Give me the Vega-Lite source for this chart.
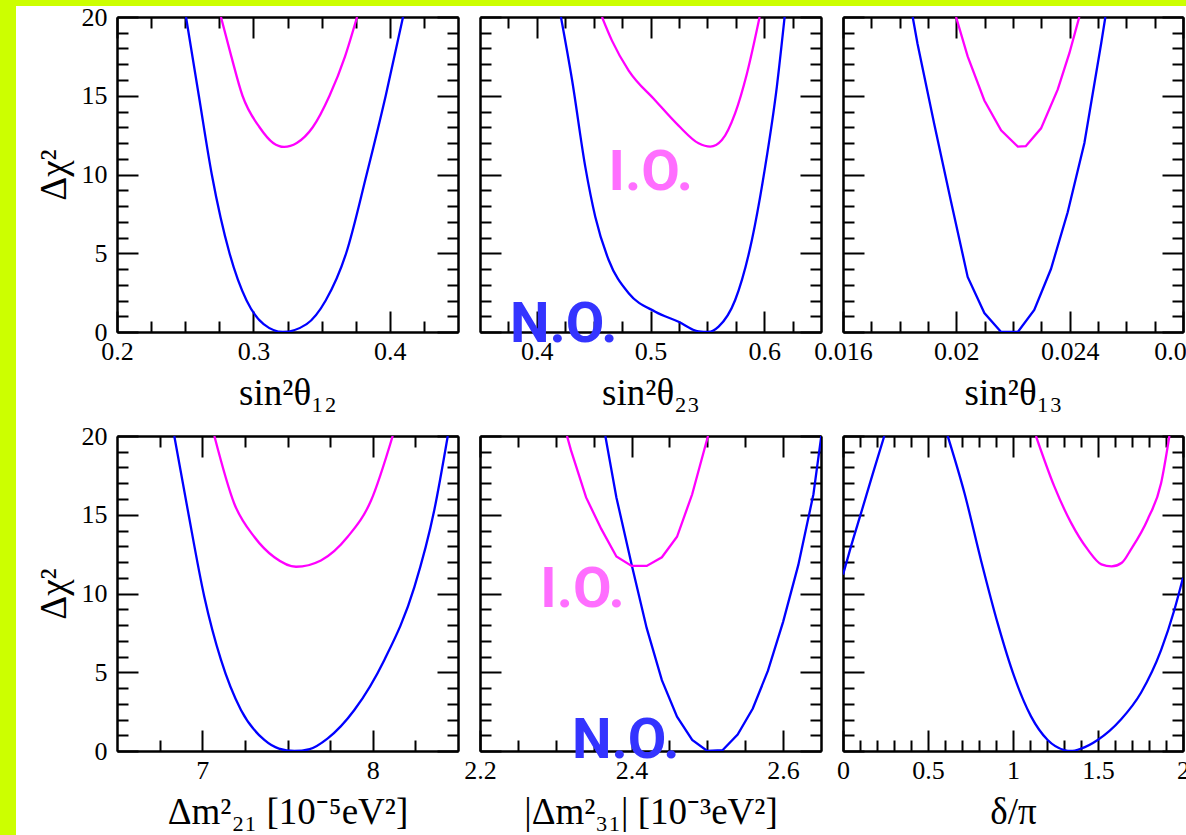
{
"$schema": "https://vega.github.io/schema/vega-lite/v6.json",
"background": "white",
"padding": 0,
"config": {
  "view": {"stroke": null},
  "axis": {"grid": false, "domainColor": "black", "domainWidth": 2, "tickColor": "black", "tickWidth": 2,
    "labelFont": "Liberation Serif", "labelFontSize": 26, "labelColor": "black", "labelPadding": 31,
    "labelFlush": false, "labelOverlap": false,
    "titleFont": "Liberation Serif", "titleFontSize": 37, "titleFontWeight": "normal", "titleColor": "black", "titlePadding": 4},
  "axisBottom": {"labelPadding": 27, "titlePadding": 11}
},
"datasets": {
  "curves": [
    {"p":1,"o":"NO","s":"a","x":0.2506,"y":20},{"p":1,"o":"NO","s":"a","x":0.2600,"y":15},{"p":1,"o":"NO","s":"a","x":0.2695,"y":10},{"p":1,"o":"NO","s":"a","x":0.2825,"y":5},{"p":1,"o":"NO","s":"a","x":0.2950,"y":2},{"p":1,"o":"NO","s":"a","x":0.3075,"y":0.5},{"p":1,"o":"NO","s":"a","x":0.3217,"y":0},{"p":1,"o":"NO","s":"a","x":0.3390,"y":0.5},{"p":1,"o":"NO","s":"a","x":0.3530,"y":2},{"p":1,"o":"NO","s":"a","x":0.3680,"y":5},{"p":1,"o":"NO","s":"a","x":0.3830,"y":10},{"p":1,"o":"NO","s":"a","x":0.3970,"y":15},{"p":1,"o":"NO","s":"a","x":0.4097,"y":20},
    {"p":1,"o":"IO","s":"a","x":0.2762,"y":20},{"p":1,"o":"IO","s":"a","x":0.2838,"y":17.5},{"p":1,"o":"IO","s":"a","x":0.2920,"y":15},{"p":1,"o":"IO","s":"a","x":0.3045,"y":13},{"p":1,"o":"IO","s":"a","x":0.3145,"y":12},{"p":1,"o":"IO","s":"a","x":0.3225,"y":11.75},{"p":1,"o":"IO","s":"a","x":0.3318,"y":12},{"p":1,"o":"IO","s":"a","x":0.3435,"y":13},{"p":1,"o":"IO","s":"a","x":0.3558,"y":15},{"p":1,"o":"IO","s":"a","x":0.3672,"y":17.5},{"p":1,"o":"IO","s":"a","x":0.3760,"y":20},
    {"p":2,"o":"NO","s":"a","x":0.4212,"y":20},{"p":2,"o":"NO","s":"a","x":0.4310,"y":16.0},{"p":2,"o":"NO","s":"a","x":0.4426,"y":10.5},{"p":2,"o":"NO","s":"a","x":0.4514,"y":7.32},{"p":2,"o":"NO","s":"a","x":0.4632,"y":4.57},{"p":2,"o":"NO","s":"a","x":0.4808,"y":2.46},{"p":2,"o":"NO","s":"a","x":0.5042,"y":1.29},{"p":2,"o":"NO","s":"a","x":0.5247,"y":0.65},{"p":2,"o":"NO","s":"a","x":0.5423,"y":0.04},{"p":2,"o":"NO","s":"a","x":0.5511,"y":0},{"p":2,"o":"NO","s":"a","x":0.5599,"y":0.34},{"p":2,"o":"NO","s":"a","x":0.5745,"y":2.03},{"p":2,"o":"NO","s":"a","x":0.5892,"y":5.84},{"p":2,"o":"NO","s":"a","x":0.6009,"y":10.5},{"p":2,"o":"NO","s":"a","x":0.6112,"y":15.6},{"p":2,"o":"NO","s":"a","x":0.6180,"y":20},
    {"p":2,"o":"IO","s":"a","x":0.4573,"y":20},{"p":2,"o":"IO","s":"a","x":0.4661,"y":18.5},{"p":2,"o":"IO","s":"a","x":0.4808,"y":16.6},{"p":2,"o":"IO","s":"a","x":0.5042,"y":14.7},{"p":2,"o":"IO","s":"a","x":0.5247,"y":13.1},{"p":2,"o":"IO","s":"a","x":0.5423,"y":11.98},{"p":2,"o":"IO","s":"a","x":0.5526,"y":11.77},{"p":2,"o":"IO","s":"a","x":0.5628,"y":12.19},{"p":2,"o":"IO","s":"a","x":0.5745,"y":13.9},{"p":2,"o":"IO","s":"a","x":0.5848,"y":16.4},{"p":2,"o":"IO","s":"a","x":0.5960,"y":20},
    {"p":3,"o":"NO","s":"a","x":0.01846,"y":20},{"p":3,"o":"NO","s":"a","x":0.01863,"y":18.3},{"p":3,"o":"NO","s":"a","x":0.01922,"y":13.2},{"p":3,"o":"NO","s":"a","x":0.01981,"y":8.3},{"p":3,"o":"NO","s":"a","x":0.02040,"y":3.5},{"p":3,"o":"NO","s":"a","x":0.02099,"y":1.2},{"p":3,"o":"NO","s":"a","x":0.02158,"y":0},{"p":3,"o":"NO","s":"a","x":0.02217,"y":0},{"p":3,"o":"NO","s":"a","x":0.02275,"y":1.4},{"p":3,"o":"NO","s":"a","x":0.02334,"y":4.0},{"p":3,"o":"NO","s":"a","x":0.02393,"y":7.6},{"p":3,"o":"NO","s":"a","x":0.02452,"y":12.0},{"p":3,"o":"NO","s":"a","x":0.02511,"y":18.3},{"p":3,"o":"NO","s":"a","x":0.02526,"y":20},
    {"p":3,"o":"IO","s":"a","x":0.01999,"y":20},{"p":3,"o":"IO","s":"a","x":0.02040,"y":17.5},{"p":3,"o":"IO","s":"a","x":0.02099,"y":14.7},{"p":3,"o":"IO","s":"a","x":0.02158,"y":12.8},{"p":3,"o":"IO","s":"a","x":0.02217,"y":11.77},{"p":3,"o":"IO","s":"a","x":0.02245,"y":11.8},{"p":3,"o":"IO","s":"a","x":0.02299,"y":12.93},{"p":3,"o":"IO","s":"a","x":0.02358,"y":15.4},{"p":3,"o":"IO","s":"a","x":0.02399,"y":17.7},{"p":3,"o":"IO","s":"a","x":0.02434,"y":20},
    {"p":4,"o":"NO","s":"a","x":6.836,"y":20},{"p":4,"o":"NO","s":"a","x":6.915,"y":15.3},{"p":4,"o":"NO","s":"a","x":7.012,"y":9.8},{"p":4,"o":"NO","s":"a","x":7.110,"y":5.78},{"p":4,"o":"NO","s":"a","x":7.227,"y":2.6},{"p":4,"o":"NO","s":"a","x":7.364,"y":0.7},{"p":4,"o":"NO","s":"a","x":7.450,"y":0.15},{"p":4,"o":"NO","s":"a","x":7.540,"y":0},{"p":4,"o":"NO","s":"a","x":7.630,"y":0.12},{"p":4,"o":"NO","s":"a","x":7.736,"y":0.8},{"p":4,"o":"NO","s":"a","x":7.892,"y":2.6},{"p":4,"o":"NO","s":"a","x":8.068,"y":5.78},{"p":4,"o":"NO","s":"a","x":8.244,"y":10.4},{"p":4,"o":"NO","s":"a","x":8.361,"y":15.3},{"p":4,"o":"NO","s":"a","x":8.440,"y":20},
    {"p":4,"o":"IO","s":"a","x":7.071,"y":20},{"p":4,"o":"IO","s":"a","x":7.188,"y":15.7},{"p":4,"o":"IO","s":"a","x":7.305,"y":13.6},{"p":4,"o":"IO","s":"a","x":7.423,"y":12.3},{"p":4,"o":"IO","s":"a","x":7.550,"y":11.7},{"p":4,"o":"IO","s":"a","x":7.696,"y":12.1},{"p":4,"o":"IO","s":"a","x":7.853,"y":13.6},{"p":4,"o":"IO","s":"a","x":7.990,"y":15.9},{"p":4,"o":"IO","s":"a","x":8.117,"y":20},
    {"p":5,"o":"NO","s":"a","x":2.3654,"y":20},{"p":5,"o":"NO","s":"a","x":2.38,"y":16.1},{"p":5,"o":"NO","s":"a","x":2.40,"y":11.85},{"p":5,"o":"NO","s":"a","x":2.42,"y":7.8},{"p":5,"o":"NO","s":"a","x":2.44,"y":4.5},{"p":5,"o":"NO","s":"a","x":2.46,"y":2.18},{"p":5,"o":"NO","s":"a","x":2.48,"y":0.7},{"p":5,"o":"NO","s":"a","x":2.50,"y":0},{"p":5,"o":"NO","s":"a","x":2.52,"y":0.05},{"p":5,"o":"NO","s":"a","x":2.54,"y":1.05},{"p":5,"o":"NO","s":"a","x":2.56,"y":2.7},{"p":5,"o":"NO","s":"a","x":2.58,"y":5.1},{"p":5,"o":"NO","s":"a","x":2.60,"y":8.2},{"p":5,"o":"NO","s":"a","x":2.62,"y":11.8},{"p":5,"o":"NO","s":"a","x":2.64,"y":16.3},{"p":5,"o":"NO","s":"a","x":2.6504,"y":20},
    {"p":5,"o":"IO","s":"a","x":2.3148,"y":20},{"p":5,"o":"IO","s":"a","x":2.32,"y":19.1},{"p":5,"o":"IO","s":"a","x":2.34,"y":16.1},{"p":5,"o":"IO","s":"a","x":2.36,"y":14.1},{"p":5,"o":"IO","s":"a","x":2.38,"y":12.35},{"p":5,"o":"IO","s":"a","x":2.40,"y":11.75},{"p":5,"o":"IO","s":"a","x":2.42,"y":11.75},{"p":5,"o":"IO","s":"a","x":2.44,"y":12.3},{"p":5,"o":"IO","s":"a","x":2.46,"y":13.6},{"p":5,"o":"IO","s":"a","x":2.48,"y":16.3},{"p":5,"o":"IO","s":"a","x":2.5009,"y":20},
    {"p":6,"o":"NO","s":"a","x":0,"y":11.2},{"p":6,"o":"NO","s":"a","x":0.05,"y":13.1},{"p":6,"o":"NO","s":"a","x":0.106,"y":15.1},{"p":6,"o":"NO","s":"a","x":0.175,"y":17.6},{"p":6,"o":"NO","s":"a","x":0.243,"y":20},
    {"p":6,"o":"NO","s":"b","x":0.616,"y":20},{"p":6,"o":"NO","s":"b","x":0.714,"y":16.4},{"p":6,"o":"NO","s":"b","x":0.812,"y":12.1},{"p":6,"o":"NO","s":"b","x":0.910,"y":8.1},{"p":6,"o":"NO","s":"b","x":1.008,"y":4.7},{"p":6,"o":"NO","s":"b","x":1.106,"y":2.2},{"p":6,"o":"NO","s":"b","x":1.204,"y":0.7},{"p":6,"o":"NO","s":"b","x":1.302,"y":0.06},{"p":6,"o":"NO","s":"b","x":1.34,"y":0},{"p":6,"o":"NO","s":"b","x":1.40,"y":0.15},{"p":6,"o":"NO","s":"b","x":1.498,"y":0.7},{"p":6,"o":"NO","s":"b","x":1.635,"y":2.0},{"p":6,"o":"NO","s":"b","x":1.753,"y":3.7},{"p":6,"o":"NO","s":"b","x":1.871,"y":6.4},{"p":6,"o":"NO","s":"b","x":1.949,"y":8.95},{"p":6,"o":"NO","s":"b","x":2.0,"y":11.0},
    {"p":6,"o":"IO","s":"a","x":1.135,"y":20},{"p":6,"o":"IO","s":"a","x":1.243,"y":16.8},{"p":6,"o":"IO","s":"a","x":1.341,"y":14.5},{"p":6,"o":"IO","s":"a","x":1.439,"y":12.8},{"p":6,"o":"IO","s":"a","x":1.52,"y":11.85},{"p":6,"o":"IO","s":"a","x":1.58,"y":11.72},{"p":6,"o":"IO","s":"a","x":1.64,"y":11.95},{"p":6,"o":"IO","s":"a","x":1.694,"y":12.8},{"p":6,"o":"IO","s":"a","x":1.792,"y":14.7},{"p":6,"o":"IO","s":"a","x":1.871,"y":17.0},{"p":6,"o":"IO","s":"a","x":1.920,"y":20}
  ],
  "labels": [
    {"p":2,"t":"I.O.","x":0.4631,"y":9.0},
    {"p":2,"t":"N.O.","x":0.3764,"y":-0.63},
    {"p":5,"t":"I.O.","x":2.2796,"y":9.16},
    {"p":5,"t":"N.O.","x":2.3214,"y":-0.46}
  ]
},
"spacing": 0,
"hconcat": [
  {"width": 16, "height": 835, "data": {"values": [{}]}, "mark": {"type": "point", "opacity": 0, "size": 0}, "view": {"fill": "#ccff00", "stroke": null}},
  {"spacing": -2, "vconcat": [
    {"width": 1170, "height": 6, "data": {"values": [{}]}, "mark": {"type": "point", "opacity": 0, "size": 0}, "view": {"fill": "#ccff00", "stroke": null}},
    {"spacing": 18, "hconcat": [
      {"width": 1, "height": 1, "data": {"values": [{}]}, "mark": {"type": "point", "opacity": 0, "size": 0}},
      {"columns": 3, "spacing": {"row": 104, "column": 22}, "bounds": "flush", "concat": [
      {"width": 341, "height": 315, "data": {"name": "curves"}, "transform": [{"filter": "datum.p == 1"}],
       "layer": [
        {"mark": {"type": "line", "clip": true, "strokeWidth": 2.3, "interpolate": "monotone"},
         "encoding": {
          "x": {"field": "x", "type": "quantitative", "scale": {"domain": [0.2, 0.45], "nice": false, "zero": false}, "axis": {"orient": "bottom", "values": [0.2, 0.3, 0.4], "format": ".1f", "tickSize": -21, "title": "sin²θ₁₂"}},
          "y": {"field": "y", "type": "quantitative", "scale": {"domain": [0, 20], "nice": false, "zero": false}, "axis": {"orient": "left", "values": [0, 5, 10, 15, 20], "format": "d", "tickSize": -21, "title": "Δχ²", "titlePadding": 8}},
          "color": {"field": "o", "type": "nominal", "scale": {"domain": ["NO", "IO"], "range": ["#0000ff", "#ff00ff"]}, "legend": null},
          "detail": {"field": "s", "type": "nominal"}}},
        {"mark": {"type": "point", "opacity": 0},
         "encoding": {
          "x": {"field": "x", "type": "quantitative", "scale": {"domain": [0.2, 0.45], "nice": false, "zero": false}, "axis": {"orient": "bottom", "values": [0.225, 0.25, 0.275, 0.325, 0.35, 0.375, 0.425], "tickSize": -11, "labels": false, "title": null}},
          "y": {"field": "y", "type": "quantitative", "scale": {"domain": [0, 20], "nice": false, "zero": false}, "axis": {"orient": "left", "values": [1,2,3,4,6,7,8,9,11,12,13,14,16,17,18,19], "tickSize": -11, "labels": false, "title": null}}}},
        {"mark": {"type": "point", "opacity": 0},
         "encoding": {
          "x": {"field": "x", "type": "quantitative", "scale": {"domain": [0.2, 0.45], "nice": false, "zero": false}, "axis": {"orient": "top", "values": [0.2, 0.3, 0.4], "tickSize": -21, "labels": false, "title": null}},
          "y": {"field": "y", "type": "quantitative", "scale": {"domain": [0, 20], "nice": false, "zero": false}, "axis": {"orient": "right", "values": [0, 5, 10, 15, 20], "tickSize": -21, "labels": false, "title": null}}}},
        {"mark": {"type": "point", "opacity": 0},
         "encoding": {
          "x": {"field": "x", "type": "quantitative", "scale": {"domain": [0.2, 0.45], "nice": false, "zero": false}, "axis": {"orient": "top", "values": [0.225, 0.25, 0.275, 0.325, 0.35, 0.375, 0.425], "tickSize": -11, "labels": false, "title": null}},
          "y": {"field": "y", "type": "quantitative", "scale": {"domain": [0, 20], "nice": false, "zero": false}, "axis": {"orient": "right", "values": [1,2,3,4,6,7,8,9,11,12,13,14,16,17,18,19], "tickSize": -11, "labels": false, "title": null}}}}
       ],
       "resolve": {"axis": {"x": "independent", "y": "independent"}}},
      {"width": 341, "height": 315, "data": {"name": "curves"}, "transform": [{"filter": "datum.p == 2"}],
       "layer": [
        {"mark": {"type": "line", "clip": true, "strokeWidth": 2.3, "interpolate": "monotone"},
         "encoding": {
          "x": {"field": "x", "type": "quantitative", "scale": {"domain": [0.35, 0.65], "nice": false, "zero": false}, "axis": {"orient": "bottom", "values": [0.4, 0.5, 0.6], "format": ".1f", "tickSize": -21, "title": "sin²θ₂₃"}},
          "y": {"field": "y", "type": "quantitative", "scale": {"domain": [0, 20], "nice": false, "zero": false}, "axis": {"orient": "left", "values": [0, 5, 10, 15, 20], "tickSize": -21, "labels": false, "title": null}},
          "color": {"field": "o", "type": "nominal", "scale": {"domain": ["NO", "IO"], "range": ["#0000ff", "#ff00ff"]}, "legend": null},
          "detail": {"field": "s", "type": "nominal"}}},
        {"mark": {"type": "point", "opacity": 0},
         "encoding": {
          "x": {"field": "x", "type": "quantitative", "scale": {"domain": [0.35, 0.65], "nice": false, "zero": false}, "axis": {"orient": "bottom", "values": [0.375, 0.425, 0.45, 0.475, 0.525, 0.55, 0.575, 0.625], "tickSize": -11, "labels": false, "title": null}},
          "y": {"field": "y", "type": "quantitative", "scale": {"domain": [0, 20], "nice": false, "zero": false}, "axis": {"orient": "left", "values": [1,2,3,4,6,7,8,9,11,12,13,14,16,17,18,19], "tickSize": -11, "labels": false, "title": null}}}},
        {"mark": {"type": "point", "opacity": 0},
         "encoding": {
          "x": {"field": "x", "type": "quantitative", "scale": {"domain": [0.35, 0.65], "nice": false, "zero": false}, "axis": {"orient": "top", "values": [0.4, 0.5, 0.6], "tickSize": -21, "labels": false, "title": null}},
          "y": {"field": "y", "type": "quantitative", "scale": {"domain": [0, 20], "nice": false, "zero": false}, "axis": {"orient": "right", "values": [0, 5, 10, 15, 20], "tickSize": -21, "labels": false, "title": null}}}},
        {"mark": {"type": "point", "opacity": 0},
         "encoding": {
          "x": {"field": "x", "type": "quantitative", "scale": {"domain": [0.35, 0.65], "nice": false, "zero": false}, "axis": {"orient": "top", "values": [0.375, 0.425, 0.45, 0.475, 0.525, 0.55, 0.575, 0.625], "tickSize": -11, "labels": false, "title": null}},
          "y": {"field": "y", "type": "quantitative", "scale": {"domain": [0, 20], "nice": false, "zero": false}, "axis": {"orient": "right", "values": [1,2,3,4,6,7,8,9,11,12,13,14,16,17,18,19], "tickSize": -11, "labels": false, "title": null}}}},
        {"data": {"name": "labels"}, "transform": [{"filter": "datum.p == 2 && datum.t == 'I.O.'"}],
         "mark": {"type": "text", "font": "Roboto", "fontWeight": "bold", "fontSize": 56, "align": "left", "baseline": "alphabetic", "color": "#ff6eff"},
         "encoding": {
          "x": {"field": "x", "type": "quantitative", "scale": {"domain": [0.35, 0.65], "nice": false, "zero": false}, "axis": null},
          "y": {"field": "y", "type": "quantitative", "scale": {"domain": [0, 20], "nice": false, "zero": false}, "axis": null},
          "text": {"field": "t"}}},
        {"data": {"name": "labels"}, "transform": [{"filter": "datum.p == 2 && datum.t == 'N.O.'"}],
         "mark": {"type": "text", "font": "Roboto", "fontWeight": "bold", "fontSize": 56, "align": "left", "baseline": "alphabetic", "color": "#3434ff"},
         "encoding": {
          "x": {"field": "x", "type": "quantitative", "scale": {"domain": [0.35, 0.65], "nice": false, "zero": false}, "axis": null},
          "y": {"field": "y", "type": "quantitative", "scale": {"domain": [0, 20], "nice": false, "zero": false}, "axis": null},
          "text": {"field": "t"}}}
       ],
       "resolve": {"axis": {"x": "independent", "y": "independent"}}},
      {"width": 340, "height": 315, "data": {"name": "curves"}, "transform": [{"filter": "datum.p == 3"}],
       "layer": [
        {"mark": {"type": "line", "clip": true, "strokeWidth": 2.3, "interpolate": "linear"},
         "encoding": {
          "x": {"field": "x", "type": "quantitative", "scale": {"domain": [0.016, 0.028], "nice": false, "zero": false}, "axis": {"orient": "bottom", "values": [0.016, 0.02, 0.024, 0.028], "format": ".3~f", "tickSize": -21, "title": "sin²θ₁₃"}},
          "y": {"field": "y", "type": "quantitative", "scale": {"domain": [0, 20], "nice": false, "zero": false}, "axis": {"orient": "left", "values": [0, 5, 10, 15, 20], "tickSize": -21, "labels": false, "title": null}},
          "color": {"field": "o", "type": "nominal", "scale": {"domain": ["NO", "IO"], "range": ["#0000ff", "#ff00ff"]}, "legend": null},
          "detail": {"field": "s", "type": "nominal"}}},
        {"mark": {"type": "point", "opacity": 0},
         "encoding": {
          "x": {"field": "x", "type": "quantitative", "scale": {"domain": [0.016, 0.028], "nice": false, "zero": false}, "axis": {"orient": "bottom", "values": [0.017, 0.018, 0.019, 0.021, 0.022, 0.023, 0.025, 0.026, 0.027], "tickSize": -11, "labels": false, "title": null}},
          "y": {"field": "y", "type": "quantitative", "scale": {"domain": [0, 20], "nice": false, "zero": false}, "axis": {"orient": "left", "values": [1,2,3,4,6,7,8,9,11,12,13,14,16,17,18,19], "tickSize": -11, "labels": false, "title": null}}}},
        {"mark": {"type": "point", "opacity": 0},
         "encoding": {
          "x": {"field": "x", "type": "quantitative", "scale": {"domain": [0.016, 0.028], "nice": false, "zero": false}, "axis": {"orient": "top", "values": [0.016, 0.02, 0.024, 0.028], "tickSize": -21, "labels": false, "title": null}},
          "y": {"field": "y", "type": "quantitative", "scale": {"domain": [0, 20], "nice": false, "zero": false}, "axis": {"orient": "right", "values": [0, 5, 10, 15, 20], "tickSize": -21, "labels": false, "title": null}}}},
        {"mark": {"type": "point", "opacity": 0},
         "encoding": {
          "x": {"field": "x", "type": "quantitative", "scale": {"domain": [0.016, 0.028], "nice": false, "zero": false}, "axis": {"orient": "top", "values": [0.017, 0.018, 0.019, 0.021, 0.022, 0.023, 0.025, 0.026, 0.027], "tickSize": -11, "labels": false, "title": null}},
          "y": {"field": "y", "type": "quantitative", "scale": {"domain": [0, 20], "nice": false, "zero": false}, "axis": {"orient": "right", "values": [1,2,3,4,6,7,8,9,11,12,13,14,16,17,18,19], "tickSize": -11, "labels": false, "title": null}}}}
       ],
       "resolve": {"axis": {"x": "independent", "y": "independent"}}},
      {"width": 341, "height": 315, "data": {"name": "curves"}, "transform": [{"filter": "datum.p == 4"}],
       "layer": [
        {"mark": {"type": "line", "clip": true, "strokeWidth": 2.3, "interpolate": "monotone"},
         "encoding": {
          "x": {"field": "x", "type": "quantitative", "scale": {"domain": [6.5, 8.5], "nice": false, "zero": false}, "axis": {"orient": "bottom", "values": [7, 8], "format": ".0f", "tickSize": -21, "title": "Δm²₂₁ [10⁻⁵eV²]"}},
          "y": {"field": "y", "type": "quantitative", "scale": {"domain": [0, 20], "nice": false, "zero": false}, "axis": {"orient": "left", "values": [0, 5, 10, 15, 20], "format": "d", "tickSize": -21, "title": "Δχ²", "titlePadding": 8}},
          "color": {"field": "o", "type": "nominal", "scale": {"domain": ["NO", "IO"], "range": ["#0000ff", "#ff00ff"]}, "legend": null},
          "detail": {"field": "s", "type": "nominal"}}},
        {"mark": {"type": "point", "opacity": 0},
         "encoding": {
          "x": {"field": "x", "type": "quantitative", "scale": {"domain": [6.5, 8.5], "nice": false, "zero": false}, "axis": {"orient": "bottom", "values": [6.75, 7.25, 7.5, 7.75, 8.25], "tickSize": -11, "labels": false, "title": null}},
          "y": {"field": "y", "type": "quantitative", "scale": {"domain": [0, 20], "nice": false, "zero": false}, "axis": {"orient": "left", "values": [1,2,3,4,6,7,8,9,11,12,13,14,16,17,18,19], "tickSize": -11, "labels": false, "title": null}}}},
        {"mark": {"type": "point", "opacity": 0},
         "encoding": {
          "x": {"field": "x", "type": "quantitative", "scale": {"domain": [6.5, 8.5], "nice": false, "zero": false}, "axis": {"orient": "top", "values": [7, 8], "tickSize": -21, "labels": false, "title": null}},
          "y": {"field": "y", "type": "quantitative", "scale": {"domain": [0, 20], "nice": false, "zero": false}, "axis": {"orient": "right", "values": [0, 5, 10, 15, 20], "tickSize": -21, "labels": false, "title": null}}}},
        {"mark": {"type": "point", "opacity": 0},
         "encoding": {
          "x": {"field": "x", "type": "quantitative", "scale": {"domain": [6.5, 8.5], "nice": false, "zero": false}, "axis": {"orient": "top", "values": [6.75, 7.25, 7.5, 7.75, 8.25], "tickSize": -11, "labels": false, "title": null}},
          "y": {"field": "y", "type": "quantitative", "scale": {"domain": [0, 20], "nice": false, "zero": false}, "axis": {"orient": "right", "values": [1,2,3,4,6,7,8,9,11,12,13,14,16,17,18,19], "tickSize": -11, "labels": false, "title": null}}}}
       ],
       "resolve": {"axis": {"x": "independent", "y": "independent"}}},
      {"width": 341, "height": 315, "data": {"name": "curves"}, "transform": [{"filter": "datum.p == 5"}],
       "layer": [
        {"mark": {"type": "line", "clip": true, "strokeWidth": 2.3, "interpolate": "linear"},
         "encoding": {
          "x": {"field": "x", "type": "quantitative", "scale": {"domain": [2.2, 2.65], "nice": false, "zero": false}, "axis": {"orient": "bottom", "values": [2.2, 2.4, 2.6], "format": ".1f", "tickSize": -21, "title": "|Δm²₃₁| [10⁻³eV²]"}},
          "y": {"field": "y", "type": "quantitative", "scale": {"domain": [0, 20], "nice": false, "zero": false}, "axis": {"orient": "left", "values": [0, 5, 10, 15, 20], "tickSize": -21, "labels": false, "title": null}},
          "color": {"field": "o", "type": "nominal", "scale": {"domain": ["NO", "IO"], "range": ["#0000ff", "#ff00ff"]}, "legend": null},
          "detail": {"field": "s", "type": "nominal"}}},
        {"mark": {"type": "point", "opacity": 0},
         "encoding": {
          "x": {"field": "x", "type": "quantitative", "scale": {"domain": [2.2, 2.65], "nice": false, "zero": false}, "axis": {"orient": "bottom", "values": [2.25, 2.3, 2.35, 2.45, 2.5, 2.55], "tickSize": -11, "labels": false, "title": null}},
          "y": {"field": "y", "type": "quantitative", "scale": {"domain": [0, 20], "nice": false, "zero": false}, "axis": {"orient": "left", "values": [1,2,3,4,6,7,8,9,11,12,13,14,16,17,18,19], "tickSize": -11, "labels": false, "title": null}}}},
        {"mark": {"type": "point", "opacity": 0},
         "encoding": {
          "x": {"field": "x", "type": "quantitative", "scale": {"domain": [2.2, 2.65], "nice": false, "zero": false}, "axis": {"orient": "top", "values": [2.2, 2.4, 2.6], "tickSize": -21, "labels": false, "title": null}},
          "y": {"field": "y", "type": "quantitative", "scale": {"domain": [0, 20], "nice": false, "zero": false}, "axis": {"orient": "right", "values": [0, 5, 10, 15, 20], "tickSize": -21, "labels": false, "title": null}}}},
        {"mark": {"type": "point", "opacity": 0},
         "encoding": {
          "x": {"field": "x", "type": "quantitative", "scale": {"domain": [2.2, 2.65], "nice": false, "zero": false}, "axis": {"orient": "top", "values": [2.25, 2.3, 2.35, 2.45, 2.5, 2.55], "tickSize": -11, "labels": false, "title": null}},
          "y": {"field": "y", "type": "quantitative", "scale": {"domain": [0, 20], "nice": false, "zero": false}, "axis": {"orient": "right", "values": [1,2,3,4,6,7,8,9,11,12,13,14,16,17,18,19], "tickSize": -11, "labels": false, "title": null}}}},
        {"data": {"name": "labels"}, "transform": [{"filter": "datum.p == 5 && datum.t == 'I.O.'"}],
         "mark": {"type": "text", "font": "Roboto", "fontWeight": "bold", "fontSize": 56, "align": "left", "baseline": "alphabetic", "color": "#ff6eff"},
         "encoding": {
          "x": {"field": "x", "type": "quantitative", "scale": {"domain": [2.2, 2.65], "nice": false, "zero": false}, "axis": null},
          "y": {"field": "y", "type": "quantitative", "scale": {"domain": [0, 20], "nice": false, "zero": false}, "axis": null},
          "text": {"field": "t"}}},
        {"data": {"name": "labels"}, "transform": [{"filter": "datum.p == 5 && datum.t == 'N.O.'"}],
         "mark": {"type": "text", "font": "Roboto", "fontWeight": "bold", "fontSize": 56, "align": "left", "baseline": "alphabetic", "color": "#3434ff"},
         "encoding": {
          "x": {"field": "x", "type": "quantitative", "scale": {"domain": [2.2, 2.65], "nice": false, "zero": false}, "axis": null},
          "y": {"field": "y", "type": "quantitative", "scale": {"domain": [0, 20], "nice": false, "zero": false}, "axis": null},
          "text": {"field": "t"}}}
       ],
       "resolve": {"axis": {"x": "independent", "y": "independent"}}},
      {"width": 340, "height": 315, "data": {"name": "curves"}, "transform": [{"filter": "datum.p == 6"}],
       "layer": [
        {"mark": {"type": "line", "clip": true, "strokeWidth": 2.3, "interpolate": "monotone"},
         "encoding": {
          "x": {"field": "x", "type": "quantitative", "scale": {"domain": [0, 2], "nice": false, "zero": false}, "axis": {"orient": "bottom", "values": [0, 0.5, 1, 1.5, 2], "format": ".1~f", "tickSize": -21, "title": "δ/π"}},
          "y": {"field": "y", "type": "quantitative", "scale": {"domain": [0, 20], "nice": false, "zero": false}, "axis": {"orient": "left", "values": [0, 5, 10, 15, 20], "tickSize": -21, "labels": false, "title": null}},
          "color": {"field": "o", "type": "nominal", "scale": {"domain": ["NO", "IO"], "range": ["#0000ff", "#ff00ff"]}, "legend": null},
          "detail": {"field": "s", "type": "nominal"}}},
        {"mark": {"type": "point", "opacity": 0},
         "encoding": {
          "x": {"field": "x", "type": "quantitative", "scale": {"domain": [0, 2], "nice": false, "zero": false}, "axis": {"orient": "bottom", "values": [0.1,0.2,0.3,0.4,0.6,0.7,0.8,0.9,1.1,1.2,1.3,1.4,1.6,1.7,1.8,1.9], "tickSize": -11, "labels": false, "title": null}},
          "y": {"field": "y", "type": "quantitative", "scale": {"domain": [0, 20], "nice": false, "zero": false}, "axis": {"orient": "left", "values": [1,2,3,4,6,7,8,9,11,12,13,14,16,17,18,19], "tickSize": -11, "labels": false, "title": null}}}},
        {"mark": {"type": "point", "opacity": 0},
         "encoding": {
          "x": {"field": "x", "type": "quantitative", "scale": {"domain": [0, 2], "nice": false, "zero": false}, "axis": {"orient": "top", "values": [0, 0.5, 1, 1.5, 2], "tickSize": -21, "labels": false, "title": null}},
          "y": {"field": "y", "type": "quantitative", "scale": {"domain": [0, 20], "nice": false, "zero": false}, "axis": {"orient": "right", "values": [0, 5, 10, 15, 20], "tickSize": -21, "labels": false, "title": null}}}},
        {"mark": {"type": "point", "opacity": 0},
         "encoding": {
          "x": {"field": "x", "type": "quantitative", "scale": {"domain": [0, 2], "nice": false, "zero": false}, "axis": {"orient": "top", "values": [0.1,0.2,0.3,0.4,0.6,0.7,0.8,0.9,1.1,1.2,1.3,1.4,1.6,1.7,1.8,1.9], "tickSize": -11, "labels": false, "title": null}},
          "y": {"field": "y", "type": "quantitative", "scale": {"domain": [0, 20], "nice": false, "zero": false}, "axis": {"orient": "right", "values": [1,2,3,4,6,7,8,9,11,12,13,14,16,17,18,19], "tickSize": -11, "labels": false, "title": null}}}}
       ],
       "resolve": {"axis": {"x": "independent", "y": "independent"}}}
      ]}
    ]}
  ]}
]
}
